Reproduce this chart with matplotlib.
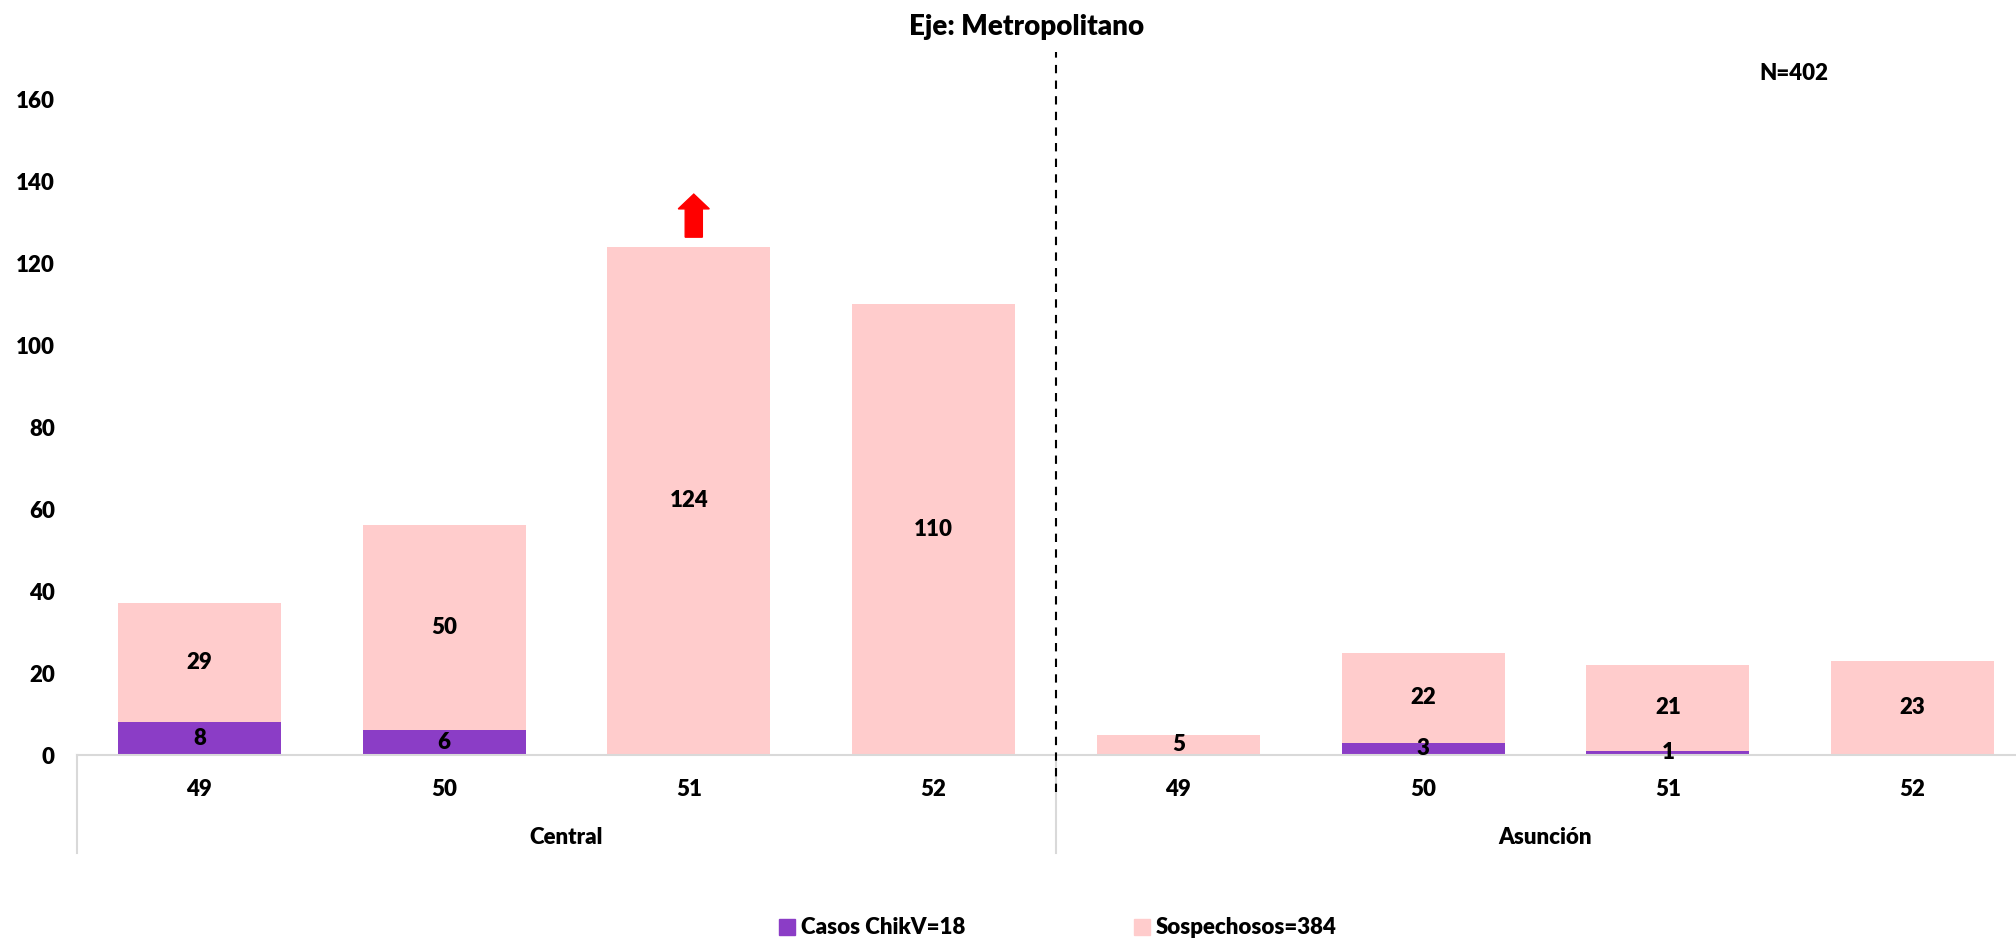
import matplotlib
matplotlib.use("Agg")
import matplotlib.pyplot as plt
from matplotlib.patches import Patch

plt.rcParams['font.family'] = ['Lato', 'DejaVu Sans']
plt.rcParams['font.weight'] = 'bold'

semanas = ['49', '50', '51', '52', '49', '50', '51', '52']
departamentos = ['Central', 'Asunción']
casos = [8, 6, 0, 0, 0, 3, 1, 0]
sospechosos = [29, 50, 124, 110, 5, 22, 21, 23]
yticks = [0, 20, 40, 60, 80, 100, 120, 140, 160]

c_casos = '#8B3DC6'
c_sosp = '#FFCCCC'
fs = 16

fig = plt.figure(figsize=(20.16, 9.4), dpi=100)
ax = fig.add_axes([77 / 2016, 185 / 940, 1958 / 2016, 697 / 940])

x = list(range(len(semanas)))
b1 = ax.bar(x, casos, width=0.667, color=c_casos, zorder=2)
b2 = ax.bar(x, sospechosos, width=0.667, bottom=casos, color=c_sosp, zorder=2)

for i in x:
    if casos[i] > 0:
        ax.text(i, casos[i] / 2, str(casos[i]), ha='center', va='center',
                fontsize=fs, fontweight='heavy', zorder=3)
    ax.text(i, casos[i] + sospechosos[i] / 2, str(sospechosos[i]),
            ha='center', va='center', fontsize=fs, fontweight='heavy', zorder=3)

ax.set_xlim(-0.5, 7.5)
ax.set_ylim(0, 170)
ax.set_yticks(yticks)
ax.set_yticklabels([str(v) for v in yticks], fontsize=fs, fontweight='heavy')
ax.tick_params(axis='y', length=0, pad=16)
ax.set_xticks([])
for s in ['top', 'right', 'left']:
    ax.spines[s].set_visible(False)
ax.spines['bottom'].set_color('#D9D9D9')
ax.spines['bottom'].set_linewidth(1.5)

tr = ax.get_xaxis_transform()
for i, s in enumerate(semanas):
    ax.text(i, -0.049, s, transform=tr, ha='center', va='center',
            fontsize=fs, fontweight='heavy')
for j, d in enumerate(departamentos):
    ax.text(1.5 + 4 * j, -0.119, d, transform=tr, ha='center', va='center',
            fontsize=fs, fontweight='heavy')
for xs in [-0.5, 3.5]:
    ax.plot([xs, xs], [0, -0.1406], transform=tr, color='#D9D9D9', lw=1.5,
            clip_on=False)

# linea divisoria entre departamentos
ln, = ax.plot([3.5, 3.5], [-9, 171.5], color='black', lw=1.5, clip_on=False,
              zorder=4)
ln.set_dashes((4, 3.5))

# flecha de aumento
ax.arrow(2.02, 126.3, 0, 10.5, width=0.07, head_width=0.127, head_length=3.6,
         length_includes_head=True, color='#FF0000', zorder=4)

fig.text(1027 / 2016, 1 - 27 / 940, 'Eje: Metropolitano', ha='center',
         va='center', fontsize=20, fontweight='heavy')
fig.text(1794 / 2016, 1 - 73 / 940, 'N=402', ha='center', va='center',
         fontsize=fs, fontweight='heavy')

handles = [Patch(color=c_casos, label='Casos ChikV=18'),
           Patch(color=c_sosp, label='Sospechosos=384')]
fig.legend(handles=handles, loc='center', bbox_to_anchor=(1058 / 2016, 1 - 928 / 940),
           ncol=2, frameon=False, handlelength=0.72,
           handleheight=0.7, handletextpad=0.25, columnspacing=7.6,
           prop={'weight': 'heavy', 'size': fs})

fig.savefig('out.png', dpi=100)
